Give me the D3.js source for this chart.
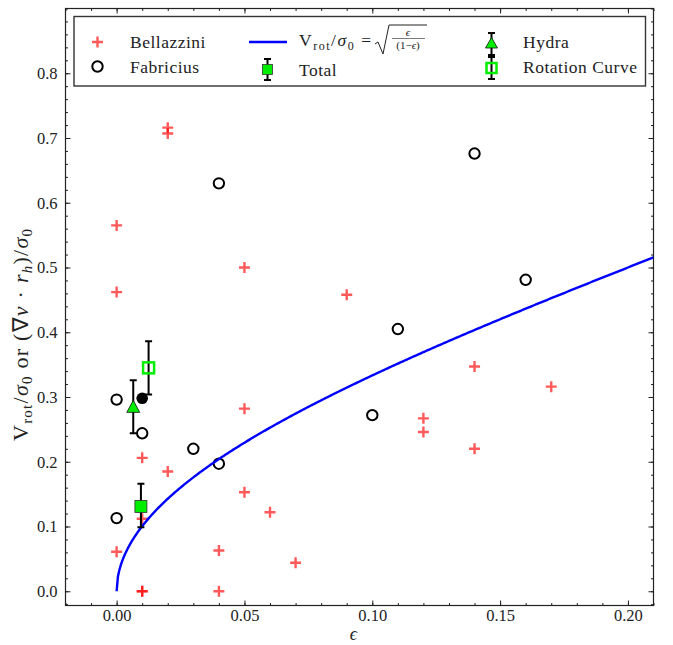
<!DOCTYPE html>
<html>
<head>
<meta charset="utf-8">
<script src="https://cdn.jsdelivr.net/npm/d3@7"></script>
<style>
  html, body { margin: 0; padding: 0; background: #fff; }
</style>
</head>
<body>
<svg id="chart" width="673" height="645"></svg>
<script>
// ---------------- data ----------------
const bellazziniEps = [0.02, 0.02, 0.00, 0.00, 0.05, 0.09, 0.14, 0.17, 0.12, 0.12, 0.14, 0.05, 0.01, 0.02, 0.05, 0.06, 0.01, 0.00, 0.04, 0.07, 0.01, 0.01, 0.04];
const bellazziniV   = [0.716, 0.707, 0.565, 0.462, 0.500, 0.458, 0.347, 0.316, 0.267, 0.246, 0.220, 0.282, 0.206, 0.185, 0.153, 0.122, 0.112, 0.061, 0.063, 0.044, 0.000, 0.000, 0.000];
const fabriciusEps  = [0.04, 0.14, 0.16, 0.11, 0.00, 0.01, 0.10, 0.03, 0.04, 0.00];
const fabriciusV    = [0.630, 0.676, 0.481, 0.405, 0.296, 0.244, 0.272, 0.220, 0.197, 0.113];
const filledEps = [0.01];
const filledV   = [0.298];
// [eps, value, lower, upper]
const hydra         = [0.0065, 0.284, 0.244, 0.326];
const total         = [0.0095, 0.131, 0.099, 0.166];
const rotationCurve = [0.0125, 0.345, 0.304, 0.386];
// model curve sample abscissae
const curveEps = d3.range(0, 0.2101, 0.0005);
const xMajorTicks = [0.00, 0.05, 0.10, 0.15, 0.20];
const yMajorTicks = [0.0, 0.1, 0.2, 0.3, 0.4, 0.5, 0.6, 0.7, 0.8];
const xMinorTicks = d3.range(-0.02, 0.2101, 0.01);
const yMinorTicks = d3.range(-0.02, 0.9001, 0.02);

// ---------------- layout ----------------
const FONT = '"Liberation Serif"';
const L = 65.5, R = 653.5, T = 8.5, B = 605.5;
const svg = d3.select('#chart');
const x = d3.scaleLinear().domain([-0.02, 0.21]).range([L, R]);
const y = d3.scaleLinear().domain([-0.022, 0.9]).range([B, T]);

svg.append('defs').append('clipPath').attr('id', 'clip').append('rect')
  .attr('x', L).attr('y', T).attr('width', R - L).attr('height', B - T);

// ---------------- axes ----------------
function styleAxis(g) {
  g.select('.domain').remove();
  g.selectAll('.tick line').attr('stroke', '#222').attr('stroke-width', 1);
  g.selectAll('.tick text').attr('fill', '#222').style('font-size', '16.5px').style('font-family', FONT);
}
svg.append('g').attr('transform', `translate(0,${B})`)
  .call(d3.axisBottom(x).tickValues(xMajorTicks).tickSize(-5).tickPadding(4).tickFormat(d3.format('.2f')))
  .call(styleAxis);
svg.append('g').attr('transform', `translate(0,${B})`)
  .call(d3.axisBottom(x).tickValues(xMinorTicks).tickSize(-2.5).tickFormat(''))
  .call(styleAxis);
svg.append('g').attr('transform', `translate(0,${T})`)
  .call(d3.axisTop(x).tickValues(xMajorTicks).tickSize(-5).tickFormat(''))
  .call(styleAxis);
svg.append('g').attr('transform', `translate(0,${T})`)
  .call(d3.axisTop(x).tickValues(xMinorTicks).tickSize(-2.5).tickFormat(''))
  .call(styleAxis);
svg.append('g').attr('transform', `translate(${L},0)`)
  .call(d3.axisLeft(y).tickValues(yMajorTicks).tickSize(-5).tickPadding(8).tickFormat(d3.format('.1f')))
  .call(styleAxis);
svg.append('g').attr('transform', `translate(${L},0)`)
  .call(d3.axisLeft(y).tickValues(yMinorTicks).tickSize(-2.5).tickFormat(''))
  .call(styleAxis);
svg.append('g').attr('transform', `translate(${R},0)`)
  .call(d3.axisRight(y).tickValues(yMajorTicks).tickSize(-5).tickFormat(''))
  .call(styleAxis);
svg.append('g').attr('transform', `translate(${R},0)`)
  .call(d3.axisRight(y).tickValues(yMinorTicks).tickSize(-2.5).tickFormat(''))
  .call(styleAxis);

svg.append('rect').attr('x', L).attr('y', T).attr('width', R - L).attr('height', B - T)
  .attr('fill', 'none').attr('stroke', '#222').attr('stroke-width', 1.2);

// text helper
function T_(parent, size) {
  return parent.append('text').style('font-family', FONT).style('font-size', size + 'px').attr('fill', '#222');
}
function sp(t, s, opts = {}) {
  const ts = t.append('tspan').text(s);
  if (opts.dy) ts.attr('dy', opts.dy);
  if (opts.size) ts.style('font-size', opts.size + 'px');
  if (opts.it) ts.style('font-style', 'italic');
  return ts;
}

// axis labels
T_(svg, 18).attr('x', (L + R) / 2 - 6).attr('y', 640).attr('text-anchor', 'middle')
  .style('font-style', 'italic').text('ϵ');

const yl = T_(svg, 22).attr('transform', 'translate(28,335) rotate(-90)').attr('text-anchor', 'middle')
  .attr('textLength', 212).attr('lengthAdjust', 'spacing');
sp(yl, 'V'); sp(yl, 'rot', { dy: 4, size: 15 }); sp(yl, '/', { dy: -4 }); sp(yl, 'σ', { it: 1 });
sp(yl, '0', { dy: 4, size: 15 }); sp(yl, ' or (∇', { dy: -4 }); sp(yl, 'v', { it: 1 }); sp(yl, ' · ');
sp(yl, 'r', { it: 1 }); sp(yl, 'h', { dy: 4, size: 15, it: 1 }); sp(yl, ')/', { dy: -4 });
sp(yl, 'σ', { it: 1 }); sp(yl, '0', { dy: 4, size: 15 });

// ---------------- marks ----------------
const plot = svg.append('g').attr('clip-path', 'url(#clip)');
const RED = '#ff0000';

function plus(g, cx, cy, s) {
  g.append('path').attr('d', `M${cx - s},${cy}H${cx + s}M${cx},${cy - s}V${cy + s}`);
}

const bel = plot.append('g').attr('stroke', RED).attr('stroke-width', 2.4).attr('stroke-opacity', 0.65).attr('fill', 'none');
bellazziniEps.forEach((e, i) => plus(bel, x(e), y(bellazziniV[i]), 5.5));

plot.append('g').selectAll('circle').data(fabriciusEps).join('circle')
  .attr('cx', d => x(d)).attr('cy', (d, i) => y(fabriciusV[i])).attr('r', 5.2)
  .attr('fill', 'none').attr('stroke', '#000').attr('stroke-width', 2);

const line = d3.line().x(d => x(d)).y(d => y(Math.sqrt(d / (1 - d))));
plot.append('path').datum(curveEps).attr('d', line)
  .attr('fill', 'none').attr('stroke', '#0000ff').attr('stroke-width', 2.4);

function errbar(g, cx, lo, hi, cap) {
  g.append('path').attr('d', `M${cx},${lo}V${hi}M${cx - cap},${lo}H${cx + cap}M${cx - cap},${hi}H${cx + cap}`)
    .attr('stroke', '#000').attr('stroke-width', 2).attr('fill', 'none');
}

// filled black circle
plot.append('g').selectAll('circle').data(filledEps).join('circle')
  .attr('cx', d => x(d)).attr('cy', (d, i) => y(filledV[i])).attr('r', 5.8).attr('fill', '#000');

// Hydra
errbar(plot, x(hydra[0]), y(hydra[2]), y(hydra[3]), 3.5);
{
  const cx = x(hydra[0]), cy = y(hydra[1]);
  plot.append('path').attr('d', `M${cx},${cy - 7}L${cx + 6.5},${cy + 5}L${cx - 6.5},${cy + 5}Z`)
    .attr('fill', '#00ee00').attr('stroke', '#111').attr('stroke-width', 0.8);
}
// Total
errbar(plot, x(total[0]), y(total[2]), y(total[3]), 3.5);
plot.append('rect').attr('x', x(total[0]) - 6).attr('y', y(total[1]) - 6).attr('width', 12).attr('height', 12)
  .attr('fill', '#00ee00').attr('stroke', '#333').attr('stroke-width', 0.8);
// Rotation curve
errbar(plot, x(rotationCurve[0]), y(rotationCurve[2]), y(rotationCurve[3]), 3.5);
plot.append('rect').attr('x', x(rotationCurve[0]) - 5.5).attr('y', y(rotationCurve[1]) - 5.5).attr('width', 11).attr('height', 11)
  .attr('fill', 'none').attr('stroke', '#00ee00').attr('stroke-width', 2.5);

// ---------------- legend ----------------
const lg = svg.append('g');
lg.append('rect').attr('x', 74).attr('y', 16.5).attr('width', 571.5).attr('height', 69.5)
  .attr('fill', '#fff').attr('stroke', '#333').attr('stroke-width', 1.4);
const txt = (tx, ty, s) => T_(lg, 17.5).attr('x', tx).attr('y', ty).style('letter-spacing', '0.5px').text(s);

// Bellazzini
const lb = lg.append('g').attr('stroke', RED).attr('stroke-width', 2.4).attr('stroke-opacity', 0.65);
plus(lb, 97.5, 42, 5.5);
txt(130, 48, 'Bellazzini');
// Fabricius
lg.append('circle').attr('cx', 97.5).attr('cy', 66.5).attr('r', 5.2).attr('fill', 'none').attr('stroke', '#000').attr('stroke-width', 2);
txt(130, 73, 'Fabricius');
// model line
lg.append('path').attr('d', 'M249,42H287').attr('stroke', '#0000ff').attr('stroke-width', 2.4);
const f = T_(lg, 17.5).attr('x', 299).attr('y', 46).attr('textLength', 72).attr('lengthAdjust', 'spacing');
sp(f, 'V'); sp(f, 'rot', { dy: 4, size: 12 }); sp(f, '/', { dy: -4 }); sp(f, 'σ', { it: 1 });
sp(f, '0', { dy: 4, size: 12 }); sp(f, ' =', { dy: -4 });
const sx = 299 + 76;
lg.append('path').attr('d', `M${sx},44L${sx + 3},42L${sx + 8},54L${sx + 14},25H${sx + 52}`)
  .attr('fill', 'none').attr('stroke', '#222').attr('stroke-width', 1);
T_(lg, 11).attr('x', sx + 33).attr('y', 35.5).attr('text-anchor', 'middle').style('font-style', 'italic').text('ϵ');
lg.append('path').attr('d', `M${sx + 17},38.5H${sx + 50}`).attr('stroke', '#222').attr('stroke-width', 0.6);
const fd = T_(lg, 11).attr('x', sx + 33).attr('y', 48.5).attr('text-anchor', 'middle');
sp(fd, '(1−'); sp(fd, 'ϵ', { it: 1 }); sp(fd, ')');
// Total
errbar(lg, 267.5, 59, 80, 3.5);
lg.append('rect').attr('x', 262.5).attr('y', 64.5).attr('width', 10).attr('height', 10)
  .attr('fill', '#00ee00').attr('stroke', '#333').attr('stroke-width', 0.8);
txt(299, 76, 'Total');
// Hydra
errbar(lg, 491.5, 33, 55, 3.5);
lg.append('path').attr('d', 'M491.5,37.5L497.5,48L485.5,48Z').attr('fill', '#00ee00').attr('stroke', '#111').attr('stroke-width', 0.8);
txt(523, 48, 'Hydra');
// Rotation curve
errbar(lg, 491.5, 57, 79, 3.5);
lg.append('rect').attr('x', 486.5).attr('y', 63).attr('width', 10).attr('height', 10)
  .attr('fill', 'none').attr('stroke', '#00ee00').attr('stroke-width', 2.5);
txt(523, 73, 'Rotation Curve');
</script>
</body>
</html>
